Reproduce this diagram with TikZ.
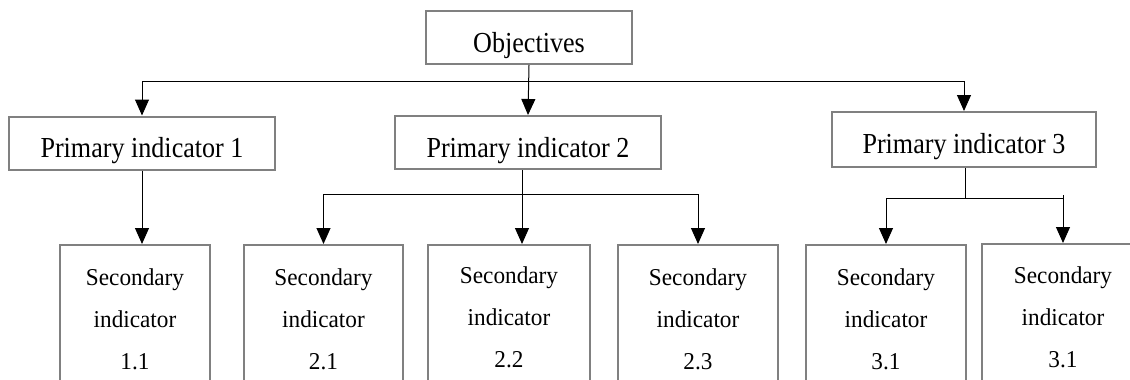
\documentclass[tikz,border=0pt]{standalone}
\usepackage{fontspec}
\setmainfont{Liberation Serif}
\newfontfamily\pfont[FakeStretch=0.9]{Liberation Serif}
\newfontfamily\sfontx[FakeStretch=0.96]{Liberation Serif}
\usetikzlibrary{arrows.meta,calc}
\definecolor{boxgray}{RGB}{128,128,128}
\begin{document}
\begin{tikzpicture}[x=1pt,y=-1pt,
  box/.style={draw=boxgray, line width=2pt, rectangle, inner sep=0pt},
  pbox/.style={box, font=\pfont\fontsize{29}{33}\selectfont, text height=41pt, text depth=12pt, minimum height=53pt},
  sbox/.style={box, minimum height=190pt, anchor=north},
  stext/.style={anchor=base, text width=150pt, align=center, inner sep=0pt, font=\sfontx\fontsize{24.2}{42}\selectfont},
  conn/.style={line width=1pt, draw=black},
  arr/.style={conn, -{Triangle[width=14pt,length=16pt]}}]
\useasboundingbox (0,0) rectangle (1130,380);
\clip (0,0) rectangle (1130,380);

% top level
\node[pbox, minimum width=206pt] (obj) at (529,37.5) {Objectives};

% primary indicators
\node[pbox, minimum width=266pt] (p1) at (142,143) {Primary indicator 1};
\node[pbox, minimum width=266pt] (p2) at (528,142.5) {Primary indicator 2};
\node[pbox, minimum width=264pt, text depth=14pt, minimum height=55pt] (p3) at (964,139.5) {Primary indicator 3};

% secondary boxes
\node[sbox, minimum width=150pt] (s11) at (135,244) {};
\node[sbox, minimum width=159pt] (s21) at (323.5,244) {};
\node[sbox, minimum width=162pt] (s22) at (509,244) {};
\node[sbox, minimum width=160pt] (s23) at (698,244) {};
\node[sbox, minimum width=160pt] (s31) at (886,244) {};
\node[sbox, minimum width=162pt] (s32) at (1063,243) {};

\node[stext] (t11) at ($(s11.north)+(0,41)$) {Secondary\\indicator\\1.1};
\node[stext] (t21) at ($(s21.north)+(0,41)$) {Secondary\\indicator\\2.1};
\node[stext] (t22) at ($(s22.north)+(0,39)$) {Secondary\\indicator\\2.2};
\node[stext] (t23) at ($(s23.north)+(0,41)$) {Secondary\\indicator\\2.3};
\node[stext] (t31) at ($(s31.north)+(0,41)$) {Secondary\\indicator\\3.1};
\node[stext] (t32) at ($(s32.north)+(0,40)$) {Secondary\\indicator\\3.1};

% connectors: objectives -> primary
\coordinate (h1) at (529,81);
\draw[arr] (obj.south) -- (p2.north);
\draw[arr] (h1) -| (p1.north);
\draw[arr] (h1) -| (p3.north);

% primary 1 -> secondary 1.1
\draw[arr] (p1.south) -- (p1.south |- s11.north);

% primary 2 -> secondary 2.x
\coordinate (h2) at (522,194);
\draw[conn] (p2.south -| h2) -- (h2);
\draw[arr] (h2) -- (h2 |- s22.north);
\draw[arr] (h2) -| (s21.north);
\draw[arr] (h2) -| (s23.north);

% primary 3 -> secondary 3.x
\coordinate (h3) at (965,198);
\coordinate (t3) at (1063,195);
\draw[conn] (p3.south -| h3) -- (h3);
\draw[arr] (h3) -| (s31.north);
\draw[conn] (h3) -- (h3 -| t3);
\draw[arr] (t3) -- (s32.north);
\end{tikzpicture}
\end{document}
